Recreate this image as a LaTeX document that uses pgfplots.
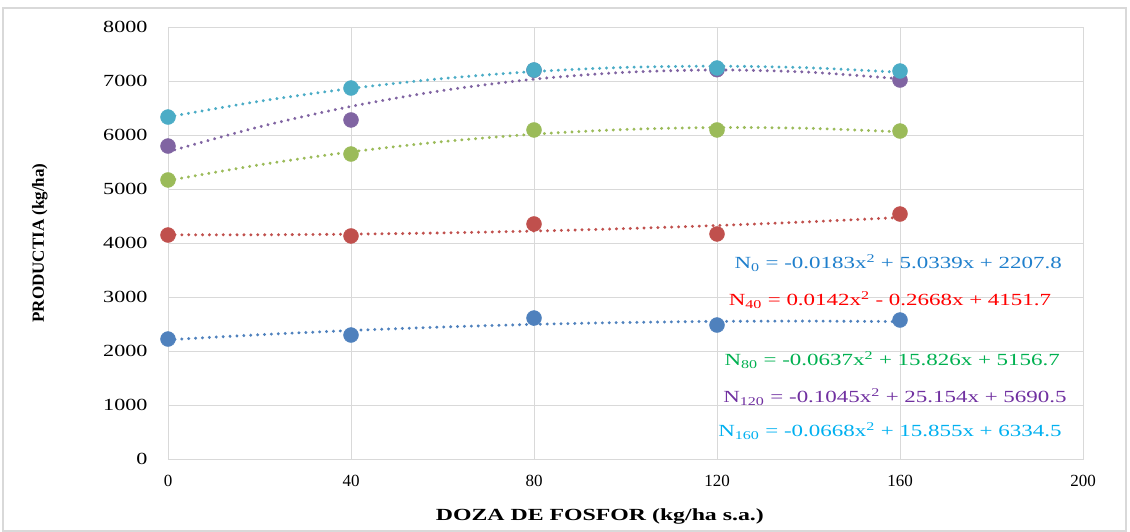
\documentclass[border=0pt]{standalone}
\usepackage{fontspec}
\setmainfont{Liberation Serif}
\usepackage{pgfplots}
\pgfplotsset{compat=1.18}
\definecolor{cN0}{HTML}{4F81BD}
\definecolor{cN40}{HTML}{C0504D}
\definecolor{cN80}{HTML}{9BBB59}
\definecolor{cN120}{HTML}{8064A2}
\definecolor{cN160}{HTML}{4BACC6}
\definecolor{tN0}{HTML}{1F7FCC}
\definecolor{tN40}{HTML}{FF0000}
\definecolor{tN80}{HTML}{00B050}
\definecolor{tN120}{HTML}{7030A0}
\definecolor{tN160}{HTML}{00B0F0}
\definecolor{gridc}{HTML}{D9D9D9}
\begin{document}
\begin{tikzpicture}[x=1pt,y=1pt]
\useasboundingbox (0,0) rectangle (1130,531);
\draw[gridc,line width=1.5pt] (3,0) rectangle (1126,523);
\begin{axis}[
  at={(168pt,72pt)}, anchor=south west,
  scale only axis, width=915pt, height=432pt,
  xmin=0, xmax=200, ymin=0, ymax=8000,
  xtick={0,40,80,120,160,200},
  ytick={0,1000,...,8000},
  grid=major,
  major grid style={gridc, line width=0.8pt},
  axis line style={gridc, line width=1pt},
  tick style={draw=none},
  /pgf/number format/assume math mode=true,
  /pgf/number format/1000 sep={},
  ticklabel style={font=\fontsize{17}{20}\selectfont},
  xticklabel style={yshift=-13pt},
  yticklabel style={xshift=-16pt, xscale=1.3},
  xlabel={DOZA DE FOSFOR (kg/ha s.a.)},
  ylabel={PRODUCTIA (kg/ha)},
  label style={font=\bfseries\fontsize{17}{20}\selectfont},
  xlabel style={at={(axis description cs:0.472,-0.134)}, anchor=center, xscale=1.4},
  ylabel style={at={(axis description cs:-0.14,0.5)}, anchor=center},
  trend/.style={line width=3.2pt, line cap=round, dash pattern=on 0.1pt off 6.8pt, smooth},
  clip=false,
]
% trendlines
\addplot[cN0, trend] coordinates {(0,2207.8)(20,2301.2)(40,2379.9)(60,2444.0)(80,2493.4)(100,2528.2)(120,2548.3)(140,2553.9)(160,2544.7)};
\addplot[cN40, trend] coordinates {(0,4151.7)(20,4152.0)(40,4163.8)(60,4186.8)(80,4221.2)(100,4267.0)(120,4324.2)(140,4392.7)(160,4472.5)};
\addplot[cN80, trend] coordinates {(0,5156.7)(20,5447.7)(40,5687.8)(60,5876.9)(80,6015.1)(100,6102.3)(120,6138.5)(140,6123.8)(160,6058.1)};
\addplot[cN120, trend] coordinates {(0,5690.5)(20,6151.8)(40,6529.5)(60,6823.5)(80,7034.0)(100,7160.9)(120,7204.2)(140,7163.9)(160,7039.9)};
\addplot[cN160, trend] coordinates {(0,6334.5)(20,6624.9)(40,6861.8)(60,7045.3)(80,7175.4)(100,7252.0)(120,7275.2)(140,7244.9)(160,7161.2)};
% data points
\addplot[only marks, mark=*, mark size=7.5pt, cN0, mark options={fill=cN0, draw=cN0}] coordinates {(0,2222)(40,2296)(80,2611)(120,2481)(160,2574)};
\addplot[only marks, mark=*, mark size=7.5pt, cN40, mark options={fill=cN40, draw=cN40}] coordinates {(0,4148)(40,4130)(80,4352)(120,4167)(160,4537)};
\addplot[only marks, mark=*, mark size=7.5pt, cN80, mark options={fill=cN80, draw=cN80}] coordinates {(0,5167)(40,5648)(80,6093)(120,6093)(160,6074)};
\addplot[only marks, mark=*, mark size=7.5pt, cN120, mark options={fill=cN120, draw=cN120}] coordinates {(0,5796)(40,6278)(80,7200)(120,7210)(160,7018)};
\addplot[only marks, mark=*, mark size=7.5pt, cN160, mark options={fill=cN160, draw=cN160}] coordinates {(0,6333)(40,6870)(80,7204)(120,7240)(160,7185)};
% equations
\node[tN0, xscale=1.35, font=\fontsize{17}{20}\selectfont] at (axis cs:159.6,3630) {N\textsubscript{0} = -0.0183x\textsuperscript{2} + 5.0339x + 2207.8};
\node[tN40, xscale=1.35, font=\fontsize{17}{20}\selectfont] at (axis cs:157.8,2944) {N\textsubscript{40} = 0.0142x\textsuperscript{2} - 0.2668x + 4151.7};
\node[tN80, xscale=1.35, font=\fontsize{17}{20}\selectfont] at (axis cs:158.3,1833) {N\textsubscript{80} = -0.0637x\textsuperscript{2} + 15.826x + 5156.7};
\node[tN120, xscale=1.35, font=\fontsize{17}{20}\selectfont] at (axis cs:158.9,1148) {N\textsubscript{120} = -0.1045x\textsuperscript{2} + 25.154x + 5690.5};
\node[tN160, xscale=1.35, font=\fontsize{17}{20}\selectfont] at (axis cs:157.8,519) {N\textsubscript{160} = -0.0668x\textsuperscript{2} + 15.855x + 6334.5};
\end{axis}
\end{tikzpicture}
\end{document}
